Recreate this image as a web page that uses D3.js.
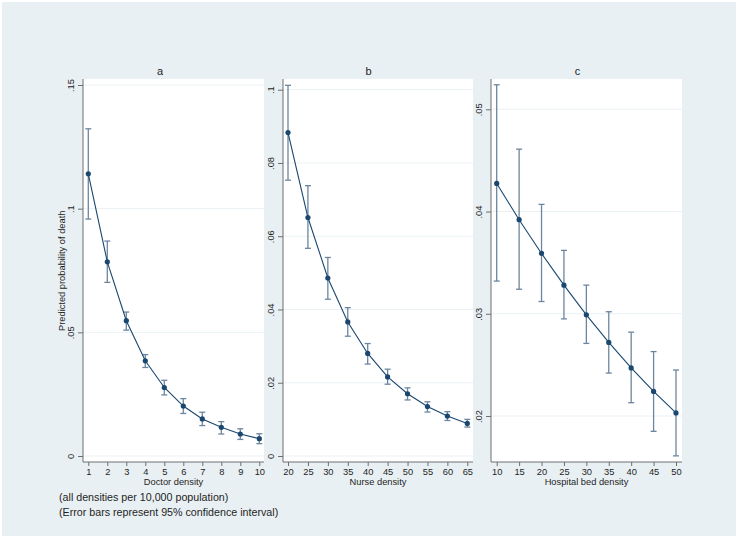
<!DOCTYPE html>
<html><head><meta charset="utf-8">
<script src="https://cdn.jsdelivr.net/npm/d3@7/dist/d3.min.js"></script>
<style>
html,body{margin:0;padding:0;background:#fff;}
text{font-family:"Liberation Sans",Arial,Helvetica,sans-serif;fill:#1e1e1e;}
</style></head>
<body><svg id="c" width="738" height="538"></svg>
<script>
// ---- data ----
const doctorX = [1,2,3,4,5,6,7,8,9,10];
const doctorP = [0.1141,0.0785,0.0547,0.0385,0.0277,0.0202,0.0150,0.0116,0.0089,0.0070];
const doctorLo = [0.0958,0.0702,0.0509,0.0358,0.0247,0.0172,0.0123,0.0089,0.0067,0.0050];
const doctorHi = [0.1323,0.0869,0.0582,0.0410,0.0306,0.0232,0.0177,0.0139,0.0110,0.0090];

const nurseX = [20,25,30,35,40,45,50,55,60,65];
const nurseP = [0.0883,0.0651,0.0486,0.0366,0.0280,0.0216,0.0170,0.0135,0.0109,0.0089];
const nurseLo = [0.0753,0.0567,0.0428,0.0327,0.0251,0.0196,0.0153,0.0120,0.0097,0.0079];
const nurseHi = [0.1012,0.0738,0.0542,0.0405,0.0307,0.0237,0.0186,0.0148,0.0121,0.0100];

const bedX = [10,15,20,25,30,35,40,45,50];
const bedP = [0.04275,0.0392,0.0359,0.0328,0.0299,0.0272,0.0247,0.0224,0.0203];
const bedLo = [0.0332,0.0324,0.0312,0.0295,0.0271,0.0242,0.0213,0.0185,0.0161];
const bedHi = [0.0524,0.0461,0.0407,0.0362,0.0328,0.0302,0.0282,0.0263,0.0245];

const doctorYTicks = [0,0.05,0.1,0.15];
const nurseYTicks = [0,0.02,0.04,0.06,0.08,0.1];
const bedYTicks = [0.02,0.03,0.04,0.05];

const panelTitles = ["a","b","c"];
const xTitles = ["Doctor density","Nurse density","Hospital bed density"];
const yTitle = "Predicted probability of death";
const notes = ["(all densities per 10,000 population)","(Error bars represent 95% confidence interval)"];

// ---- layout ----
const svg = d3.select("#c");
svg.append("rect").attr("x",2).attr("y",2).attr("width",734).attr("height",534).attr("fill","#e9f0f3");

const fmt = v => { if (v===0) return "0"; let s = String(+v.toFixed(4)); return s.replace(/^0\./,"."); };

const panels = [
  {x:doctorX,p:doctorP,lo:doctorLo,hi:doctorHi,yt:doctorYTicks,xd:[1,10],yd:[0,0.15],
   box:[83,264],xr:[88.3,259.3],yr:[456,85],titleX:160},
  {x:nurseX,p:nurseP,lo:nurseLo,hi:nurseHi,yt:nurseYTicks,xd:[20,65],yd:[0,0.1],
   box:[283,473],xr:[288,467.3],yr:[456,89.7],titleX:368.5},
  {x:bedX,p:bedP,lo:bedLo,hi:bedHi,yt:bedYTicks,xd:[10,50],yd:[0.02,0.05],
   box:[491,682],xr:[496.7,676],yr:[416,109.3],titleX:577.5}
];
const plotTop=79, plotBottom=462;
const navy="#1a476f", barCol="#6c86a0", axisCol="#6e6e6e", gridCol="#eaf1f4";

panels.forEach((P,i)=>{
  const g = svg.append("g");
  const xs = d3.scaleLinear().domain(P.xd).range(P.xr);
  const ys = d3.scaleLinear().domain(P.yd).range(P.yr);
  g.append("rect").attr("x",P.box[0]).attr("y",plotTop).attr("width",P.box[1]-P.box[0]).attr("height",plotBottom-plotTop).attr("fill","#fff");
  // gridlines
  g.selectAll(".grid").data(P.yt).enter().append("line")
    .attr("x1",P.box[0]).attr("x2",P.box[1]).attr("y1",d=>ys(d)).attr("y2",d=>ys(d))
    .attr("stroke",gridCol).attr("stroke-width",1);
  // y axis
  const ya = g.append("g").attr("transform",`translate(${P.box[0]},0)`)
    .call(d3.axisLeft(ys).tickValues(P.yt).tickFormat(fmt).tickSize(5).tickSizeOuter(0));
  ya.select(".domain").remove();
  ya.append("line").attr("x1",0).attr("x2",0).attr("y1",plotTop).attr("y2",plotBottom).attr("stroke",axisCol);
  ya.selectAll(".tick line").attr("stroke",axisCol);
  ya.selectAll(".tick text").attr("x",0).attr("y",-12).attr("dy","0.35em")
    .attr("transform","rotate(-90)").attr("text-anchor","middle")
    .style("font-size","9.3px").attr("fill","#1e1e1e");
  // x axis
  const xa = g.append("g").attr("transform",`translate(0,${plotBottom})`)
    .call(d3.axisBottom(xs).tickValues(P.x).tickFormat(d3.format("d")).tickSize(4).tickSizeOuter(0).tickPadding(2));
  xa.select(".domain").remove();
  xa.append("line").attr("x1",P.box[0]).attr("x2",P.box[1]).attr("y1",0).attr("y2",0).attr("stroke",axisCol);
  xa.selectAll(".tick line").attr("stroke",axisCol);
  xa.selectAll(".tick text").style("font-size","9.3px").attr("fill","#1e1e1e");
  // error bars
  const idx = d3.range(P.x.length);
  const eb = g.append("g").attr("stroke",barCol).attr("stroke-width",1.3).attr("fill","none");
  idx.forEach(j=>{
    const cx = xs(P.x[j]);
    eb.append("line").attr("x1",cx).attr("x2",cx).attr("y1",ys(P.lo[j])).attr("y2",ys(P.hi[j]));
    eb.append("line").attr("x1",cx-3).attr("x2",cx+3).attr("y1",ys(P.lo[j])).attr("y2",ys(P.lo[j]));
    eb.append("line").attr("x1",cx-3).attr("x2",cx+3).attr("y1",ys(P.hi[j])).attr("y2",ys(P.hi[j]));
  });
  // line
  g.append("path").datum(idx)
    .attr("d",d3.line().x(j=>xs(P.x[j])).y(j=>ys(P.p[j])))
    .attr("fill","none").attr("stroke",navy).attr("stroke-width",1.1);
  g.selectAll(".pt").data(idx).enter().append("circle")
    .attr("cx",j=>xs(P.x[j])).attr("cy",j=>ys(P.p[j])).attr("r",2.6).attr("fill",navy);
  // titles
  g.append("text").attr("x",P.titleX).attr("y",74.5).attr("text-anchor","middle").style("font-size","11px").text(panelTitles[i]);
  g.append("text").attr("x",(P.box[0]+P.box[1])/2).attr("y",484.5).attr("text-anchor","middle").style("font-size","9.3px").text(xTitles[i]);
});
svg.append("text").attr("transform","translate(65,270.8) rotate(-90)").attr("text-anchor","middle").style("font-size","9.3px").text(yTitle);
svg.append("text").attr("x",59).attr("y",500.8).style("font-size","10.7px").text(notes[0]);
svg.append("text").attr("x",59).attr("y",516.2).style("font-size","10.7px").text(notes[1]);
</script></body></html>
